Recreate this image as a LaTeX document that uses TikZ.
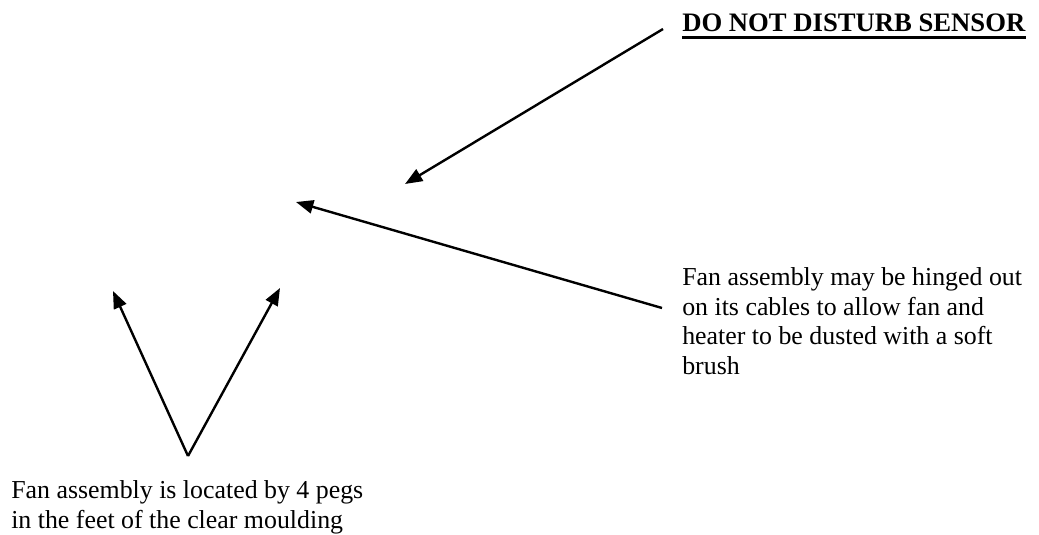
\documentclass[tikz,border=0pt]{standalone}
\usepackage{fontspec}
\setmainfont{Liberation Serif}
\usetikzlibrary{arrows.meta}
\begin{document}
\begin{tikzpicture}[x=0.75pt,y=-0.75pt,
  lbl/.style={inner sep=0pt, align=left, font=\fontsize{19.4}{22.2}\selectfont},
  ptr/.style={line width=1.8pt, -{Triangle[length=13pt,width=10pt]}}]
\path[use as bounding box] (0,0) rectangle (1039,535);

% texts
\node[lbl, anchor=base west, font=\fontsize{20}{22.2}\selectfont\bfseries] (hdr) at (682,32) {DO NOT DISTURB SENSOR};
\draw[line width=2pt] ([yshift=-4.3pt]hdr.base west) -- ([yshift=-4.3pt]hdr.base east);

\node[lbl, anchor=north west] (hinge) at (682,267.5) {Fan assembly may be hinged out\\on its cables to allow fan and\\heater to be dusted with a soft\\brush};

\node[lbl, anchor=north west] (pegs) at (11,480.5) {Fan assembly is located by 4 pegs\\in the feet of the clear moulding};

% arrow ends
\coordinate (s1) at (663,29);
\coordinate (t1) at (405,184);
\coordinate (s2) at (662,308);
\coordinate (t2) at (296,202);
\coordinate (v) at (188,456);
\coordinate (tl) at (113,291);
\coordinate (tr) at (280,288);

\draw[ptr] (s1) -- (t1);
\draw[ptr] (s2) -- (t2);
\draw[ptr] (v) -- (tl);
\draw[ptr] (v) -- (tr);
\end{tikzpicture}
\end{document}
